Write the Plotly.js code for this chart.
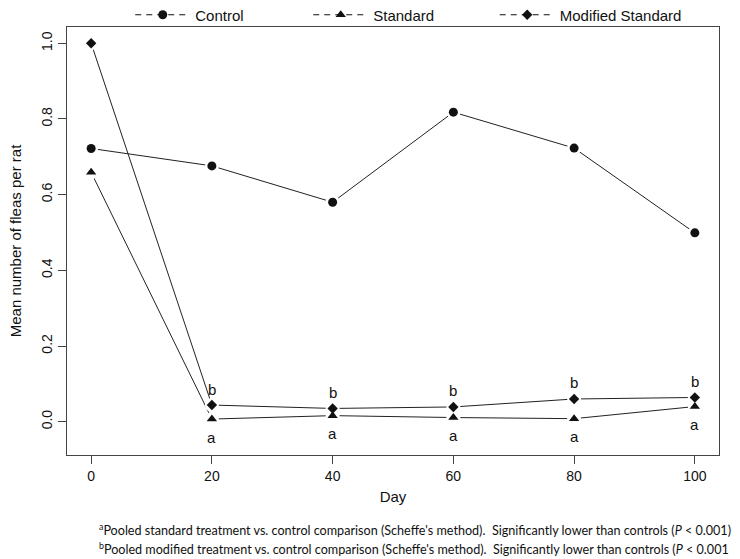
<!DOCTYPE html>
<html>
<head>
<meta charset="utf-8">
<script src="https://cdn.plot.ly/plotly-3.0.1.min.js"></script>
<style>
html,body{margin:0;padding:0;background:#fff;}
#chart{width:740px;height:559px;}
</style>
</head>
<body>
<div id="chart"></div>
<script>
// ---- data ----
const days = [0, 20, 40, 60, 80, 100];
const control = [0.722, 0.676, 0.580, 0.818, 0.723, 0.499];
const standard = [0.659, 0.007, 0.016, 0.011, 0.008, 0.040];
const modified = [1.000, 0.044, 0.035, 0.039, 0.060, 0.064];
const labelsStandard = ['', 'a', 'a', 'a', 'a', 'a'];
const labelsModified = ['', 'b', 'b', 'b', 'b', 'b'];
const seriesNames = ['Control', 'Standard', 'Modified Standard'];
const xTickVals = [0, 20, 40, 60, 80, 100];
const yTickVals = [0.0, 0.2, 0.4, 0.6, 0.8, 1.0];
const yTickText = ['0.0', '0.2', '0.4', '0.6', '0.8', '1.0'];
const footnotes = [
  "<sup>a</sup>Pooled standard treatment vs. control comparison (Scheffe's method).  Significantly lower than controls (<i>P</i> < 0.001)",
  "<sup>b</sup>Pooled modified treatment vs. control comparison (Scheffe's method).  Significantly lower than controls (<i>P</i> < 0.001"
];

const ink = '#111111';
const series = [
  {name: seriesNames[0], y: control, symbol: 'circle', size: 9, legend: 'legend'},
  {name: seriesNames[1], y: standard, symbol: 'triangle-up', size: 9, legend: 'legend2'},
  {name: seriesNames[2], y: modified, symbol: 'diamond', size: 8, legend: 'legend3'}
];

const traces = [];
// lines with white "gap" markers (R type = "b")
series.forEach(s => traces.push({
  x: days, y: s.y, mode: 'lines+markers', showlegend: false, hoverinfo: 'skip',
  line: {color: '#222', width: 1},
  marker: {symbol: 'circle', size: 14, color: '#ffffff'}
}));
// black markers on top
series.forEach(s => traces.push({
  x: days, y: s.y, mode: 'markers', showlegend: false, name: s.name,
  marker: {symbol: s.symbol, size: s.size, color: ink}
}));
// legend entries
series.forEach(s => traces.push({
  x: [null], y: [null], mode: 'lines+markers', name: s.name, legend: s.legend,
  showlegend: true,
  line: {color: ink, width: 1.2, dash: '6px,5px'},
  marker: {symbol: s.symbol, size: s.size, color: ink}
}));

const annotations = [];
days.forEach((d, i) => {
  if (labelsModified[i]) annotations.push({
    x: d, y: modified[i], xref: 'x', yref: 'y', text: labelsModified[i],
    showarrow: false, yshift: 16, font: {size: 15, color: ink}
  });
  if (labelsStandard[i]) annotations.push({
    x: d, y: standard[i], xref: 'x', yref: 'y', text: labelsStandard[i],
    showarrow: false, yshift: -18, font: {size: 15, color: ink}
  });
});
footnotes.forEach((t, i) => annotations.push({
  x: 0.046, y: [-0.175, -0.2196][i], xref: 'paper', yref: 'paper',
  xanchor: 'left', yanchor: 'middle', text: t, showarrow: false,
  font: {family: 'Lato, sans-serif', size: 12.6, color: ink}
}));

const legBase = {
  orientation: 'h', xanchor: 'left', yanchor: 'middle', y: 1.028,
  bgcolor: 'rgba(0,0,0,0)', borderwidth: 0, itemwidth: 55,
  font: {family: 'Liberation Sans, Arial, sans-serif', size: 15, color: ink}
};

const layout = {
  width: 740, height: 559,
  margin: {l: 67, r: 21, t: 27, b: 104, autoexpand: false},
  paper_bgcolor: '#fff', plot_bgcolor: '#fff',
  font: {family: 'Liberation Sans, Arial, sans-serif', size: 14, color: ink},
  xaxis: {
    range: [-4, 104], tickvals: xTickVals, ticks: 'outside', ticklen: 8,
    tickcolor: '#444', showgrid: false, zeroline: false,
    showline: true, mirror: true, linecolor: '#444', linewidth: 1,
    tickfont: {size: 14},
    title: {text: 'Day', font: {size: 15}, standoff: 8}
  },
  yaxis: {
    range: [-0.088, 1.043], tickvals: yTickVals, ticktext: yTickText,
    ticks: 'outside', ticklen: 8, tickcolor: '#444', tickangle: -90,
    showgrid: false, zeroline: false,
    showline: true, mirror: true, linecolor: '#444', linewidth: 1,
    tickfont: {size: 14},
    title: {text: 'Mean number of fleas per rat', font: {size: 15}, standoff: 14}
  },
  legend: Object.assign({}, legBase, {x: 0.097}),
  legend2: Object.assign({}, legBase, {x: 0.370}),
  legend3: Object.assign({}, legBase, {x: 0.656}),
  annotations: annotations,
  showlegend: true
};

Plotly.newPlot('chart', traces, layout, {displayModeBar: false, staticPlot: true});
</script>
</body>
</html>
